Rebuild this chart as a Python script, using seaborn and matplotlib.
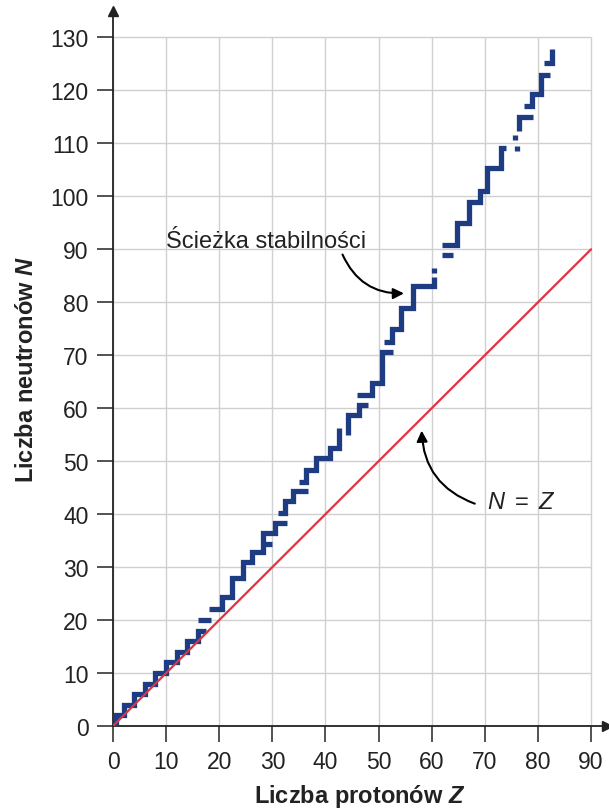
import matplotlib
matplotlib.use("Agg")
import matplotlib.pyplot as plt
import seaborn as sns
import pandas as pd

# stability path: vertices (Z, N) and segment id
path_seg = ([0] * 19 + [1] * 2 + [2] * 14 + [3] * 2 + [4] * 6 + [5] * 9 + [6] * 5
            + [7] * 6 + [8] * 9 + [9] * 2 + [10] * 2 + [11] * 12 + [12] * 2
            + [13] * 2 + [14] * 3 + [15] * 6 + [16] * 3)
path_z = [0.5, 0.5, 2, 2, 4, 4, 6, 6, 8, 8, 10, 10, 12, 12, 14, 14, 16, 16, 17.5,
          16, 18.5,
          18, 20.5, 20.5, 22.4, 22.4, 24.4, 24.4, 26.1, 26.1, 28.2, 28.2, 30.5, 30.5, 32.7,
          28.6, 30,
          31, 32.3, 32.3, 33.8, 33.8, 36.7,
          35, 36.3, 36.3, 38.3, 38.3, 40.8, 40.8, 42.5, 42.5,
          44.2, 44.2, 46.4, 46.4, 48,
          45.9, 48.7, 48.7, 50.6, 50.6, 52.7,
          51, 52.5, 52.5, 54.3, 54.3, 56.5, 56.5, 60.5, 60.5,
          60.5, 60.5,
          62, 64,
          62, 64.8, 64.8, 67, 67, 69, 69, 70.5, 70.5, 73, 73, 74,
          76, 76,
          75.6, 75.6,
          76.5, 76.5, 79,
          77.4, 78.8, 78.8, 80.6, 80.6, 82.2,
          81.2, 82.7, 82.7]
path_n = [0, 2, 2, 4, 4, 6, 6, 8, 8, 10, 10, 12, 12, 14, 14, 16, 16, 18, 18,
          20, 20,
          22, 22, 24.3, 24.3, 28, 28, 31, 31, 32.8, 32.8, 36.5, 36.5, 38.4, 38.4,
          34.3, 34.3,
          40.3, 40.3, 42.4, 42.4, 44.3, 44.3,
          46, 46, 48.4, 48.4, 50.6, 50.6, 52.5, 52.5, 56.3,
          55, 58.8, 58.8, 60.6, 60.6,
          62.5, 62.5, 64.7, 64.7, 70.6, 70.6,
          72.5, 72.5, 75, 75, 79, 79, 83, 83, 84.7,
          85.6, 86.5,
          89, 89,
          90.8, 90.8, 95, 95, 99, 99, 101, 101, 105.3, 105.3, 109.2, 109.2,
          108.6, 109.5,
          110.6, 111.5,
          112.4, 115, 115,
          117, 117, 119.4, 119.4, 123, 123,
          125.2, 125.2, 127.8]

line_z = [0, 90]
line_n = [0, 90]

x_ticks = list(range(0, 91, 10))
y_ticks = list(range(0, 131, 10))

sns.set_theme(style="white")
plt.rcParams["font.family"] = ["Liberation Sans", "DejaVu Sans"]
plt.rcParams["mathtext.fontset"] = "custom"
plt.rcParams["mathtext.rm"] = "Liberation Sans"
plt.rcParams["mathtext.it"] = "Liberation Sans:italic"
plt.rcParams["mathtext.bf"] = "Liberation Sans:bold"
plt.rcParams["mathtext.bfit"] = "Liberation Sans:bold:italic"

fig = plt.figure(figsize=(6.09, 8.12), dpi=100)
ax = fig.add_axes([113 / 609, 85 / 812, 494 / 609, 715 / 812])

# grid box 0..90 x 0..130
ax.hlines(y_ticks, 0, 90, color="#d0d0d0", lw=1.0, zorder=0)
ax.vlines(x_ticks, 0, 130, color="#d0d0d0", lw=1.0, zorder=0)

df = pd.DataFrame({"Z": path_z, "N": path_n, "seg": path_seg})
sns.lineplot(data=df, x="Z", y="N", units="seg", estimator=None, sort=False,
             color="#1d3c82", lw=3.8, solid_joinstyle="miter",
             solid_capstyle="butt", ax=ax, zorder=3)

sns.lineplot(x=line_z, y=line_n, color="#e2323f", lw=1.6, ax=ax, zorder=4)

ax.set_xlim(0, 93)
ax.set_ylim(0, 135)
ax.set_xticks(x_ticks)
ax.set_yticks(y_ticks)
ax.tick_params(axis="both", labelsize=16.5, length=11.5, width=1.3,
               color="#444444", labelcolor="#222222", direction="out", pad=6)
ax.tick_params(axis="x", bottom=True)
ax.tick_params(axis="y", left=True)

for s in ["top", "right"]:
    ax.spines[s].set_visible(False)
for s in ["left", "bottom"]:
    ax.spines[s].set_color("#222222")
    ax.spines[s].set_linewidth(1.3)

ax.plot([0], [135], marker="^", color="#222222", ms=7, clip_on=False)
ax.plot([93], [0], marker=">", color="#222222", ms=7, clip_on=False)

ax.set_xlabel(r"Liczba protonów $\mathbfit{Z}$", fontsize=17,
              fontweight="bold", color="#222222", labelpad=6)
ax.set_ylabel(r"Liczba neutronów $\mathbfit{N}$", fontsize=17,
              fontweight="bold", color="#222222", labelpad=9)

ax.text(10, 91.5, "Ścieżka stabilności", fontsize=17, color="#222222",
        va="center", ha="left")
ax.annotate("", xy=(55.3, 81.7), xytext=(43, 89.5),
            arrowprops=dict(arrowstyle="-|>", color="black", lw=1.5,
                            connectionstyle="arc3,rad=0.35",
                            mutation_scale=16))

ax.text(70.5, 42.2, r"$N$ $=$ $Z$", fontsize=17, color="#222222",
        va="center", ha="left")
ax.annotate("", xy=(58.1, 56.3), xytext=(68.6, 41.8),
            arrowprops=dict(arrowstyle="-|>", color="black", lw=1.5,
                            connectionstyle="arc3,rad=-0.35",
                            mutation_scale=16))

fig.savefig("out.png", dpi=100)
